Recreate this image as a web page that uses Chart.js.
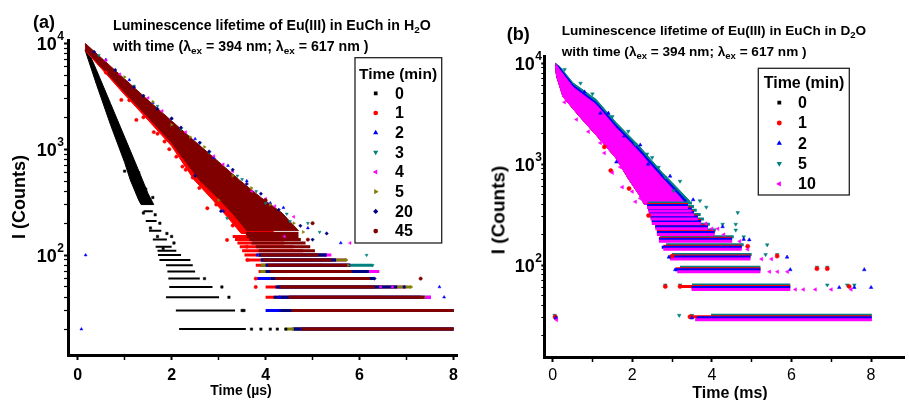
<!DOCTYPE html>
<html><head><meta charset="utf-8">
<script src="https://cdn.jsdelivr.net/npm/chart.js@4.4.1/dist/chart.umd.min.js"></script>
<style>
html,body{margin:0;padding:0;background:#fff;width:909px;height:400px;overflow:hidden;}
body{position:relative;font-family:"Liberation Sans",Arial,Helvetica,sans-serif;font-weight:bold;color:#000;}
canvas{position:absolute;top:0;}
#ca{left:0;}
#cb{left:460px;}
.t{position:absolute;white-space:nowrap;line-height:1;}
.t sub{font-size:70%;vertical-align:-0.3em;line-height:0;}
.r{transform:translate(-50%,-50%) rotate(-90deg);}
.cx{transform:translateX(-50%);}
</style></head><body>
<canvas id="ca" width="462" height="400"></canvas>
<canvas id="cb" width="449" height="400"></canvas>

<div class="t" style="left:33px;top:13px;font-size:18px">(a)</div>
<div class="t" style="left:113px;top:17.6px;font-size:14.2px">Luminescence lifetime of Eu(III) in EuCh in H<sub>2</sub>O</div>
<div class="t" style="left:113px;top:39px;font-size:14.2px">with time (λ<sub>ex</sub> = 394 nm; λ<sub>ex</sub> = 617 nm )</div>
<div class="t cx" style="left:241px;top:383px;font-size:14px">Time (µs)</div>
<div class="t r" style="left:19px;top:197px;font-size:18px">I (Counts)</div>

<div class="t" style="left:506.7px;top:24.5px;font-size:18px">(b)</div>
<div class="t" style="left:561.7px;top:23.7px;font-size:13.6px">Luminescence lifetime of Eu(III) in EuCh in D<sub>2</sub>O</div>
<div class="t" style="left:561.7px;top:45.4px;font-size:13.6px">with time (λ<sub>ex</sub> = 394 nm; λ<sub>ex</sub> = 617 nm )</div>
<div class="t cx" style="left:730px;top:384.7px;font-size:16px">Time (ms)</div>
<div class="t r" style="left:497.5px;top:210px;font-size:19px">I (Counts)</div>

<script>
// ================= DATA =================
// axis ticks
const xTickVals = [0,1,2,3,4,5,6,7,8];
const xTickLabels = ['0','','2','','4','','6','','8'];
const yTickVals = [20,30,40,50,60,70,80,90,100,200,300,400,500,600,700,800,900,1000,2000,3000,4000,5000,6000,7000,8000,9000,10000];
const yMajorVals = [100,1000,10000];
const yMajorBase = ['10','10','10'];
const yMajorExp = ['2','3','4'];

// ---- Panel (a): H2O, time in µs ; series = time (min)
const seriesA = ['0','1','2','3','4','5','20','45'];

// series 0 min
const a0Hi = [[0.16,9800],[0.4,5600],[0.7,2700],[1.0,1300],[1.2,800],[1.38,513],[1.5,380],[1.62,300]];
const a0Lo = [[0.16,8600],[0.4,4100],[0.7,1700],[1.0,750],[1.12,513],[1.3,330],[1.35,300],[1.62,300]];
const a0Rows = [[20,2.16,3.58],[30,2.09,3.35],[40,1.88,3.01],[50,1.95,2.87],[60,1.93,2.6],[70,1.91,2.5],[80,1.88,2.45],[90,1.74,2.4],[100,1.71,2.2],[110,1.7,2.1],[120,1.66,2.0],[140,1.6,1.9],[170,1.52,1.78],[210,1.45,1.68],[260,1.4,1.6]];
const a0Pts = [[3.7,20],[3.9,20],[4.1,20],[4.25,20],[4.43,20],[3.5,30],[3.54,30],[3.22,40],[3.07,50],[2.7,60],[1.3,600],[1.45,420],[1.6,350],[1.75,200],[1.9,160],[2.05,130],[1.4,250],[1.55,180],[1.82,115],[1.2,480],[1.0,620],[1.7,150],[2.0,150],[1.65,240]];

// series 1 min
const a1Hi = [[0.16,9600],[0.5,6800],[1.0,4200],[1.5,2600],[2.0,1600],[2.5,1000],[3.0,600],[3.4,400],[3.8,250],[4.2,160]];
const a1Lo = [[0.16,8550],[0.5,5800],[1.0,3270],[1.5,1880],[2.0,1070],[2.48,513],[2.88,330],[3.18,230],[3.48,160],[4.2,160]];
const a1Rows = [[20,4.6,7.5],[30,4.18,7.0],[40,4.0,6.5],[50,4.0,6.0],[60,3.95,5.8],[70,3.85,5.5],[80,3.79,5.3],[90,3.61,5.0],[100,3.55,4.9],[110,3.5,4.8],[120,3.45,4.6],[130,3.4,4.4],[140,3.35,4.3],[150,3.3,4.2]];
const a1Pts = [[0.93,2920],[1.25,1890],[1.62,1450],[1.95,1000],[2.23,685],[2.59,430],[1.7,1400],[2.3,640],[2.76,277],[2.95,300],[3.18,139],[3.3,190],[3.6,120],[3.79,60],[3.79,50],[3.61,90],[0.6,5300],[1.1,2900],[1.4,2000],[2.1,850],[2.45,540],[1.85,1180]];

// series 2 min
const a2Rows = [[20,4.56,8.0],[30,4.0,8.0],[40,4.3,7.52],[50,4.25,6.4],[60,3.82,6.32],[70,4.0,6.2],[80,4.0,5.8],[90,3.9,5.5],[100,3.8,5.3]];
const a2Pts = [[0.08,20],[0.17,100],[1.1,4500],[2.0,1950],[2.9,830],[3.6,500],[4.38,280],[4.9,180],[5.6,130],[7.7,50],[7.8,40],[3.1,260],[4.3,40],[0.6,7000],[1.6,2750],[2.5,1250],[3.2,700],[4.1,310]];

// series 3 min
const a3Rows = [[20,4.7,8.0],[30,4.6,8.0],[40,4.5,7.3],[50,4.3,6.5],[60,4.1,6.2],[70,3.89,6.1],[80,3.9,6.28],[90,3.9,5.5],[100,3.85,5.3]];
const a3Pts = [[1.2,3950],[2.6,1150],[3.5,520],[4.0,309],[4.52,208],[5.15,165],[3.18,223],[4.9,200],[6.15,100],[6.28,80],[2.2,1550],[3.8,400],[0.45,7700],[1.7,2550],[2.8,930],[3.4,560],[4.45,245]];

// series 4 min
const a4Rows = [[20,4.7,8.0],[30,4.6,7.95],[40,4.5,7.52],[50,4.3,7.0],[60,4.1,6.2],[70,4.0,6.42],[80,4.0,5.8],[90,3.9,5.72],[100,3.85,5.4]];
const a4Pts = [[0.9,5100],[1.8,2300],[3.71,400],[4.2,290],[4.6,230],[5.8,130],[4.4,150],[2.9,860],[6.45,50],[6.7,50],[3.3,620],[0.6,6900],[1.5,3050],[2.3,1450],[3.1,720],[4.0,340]];

// series 5 min
const a5Rows = [[20,4.42,8.0],[30,4.6,8.0],[40,4.5,7.4],[50,4.3,7.1],[60,4.1,6.2],[70,3.89,5.9],[80,3.9,5.76],[90,3.9,5.72],[100,3.85,5.2]];
const a5Pts = [[1.6,2800],[2.4,1300],[3.3,560],[4.1,300],[4.6,200],[4.8,165],[3.0,330],[5.72,90],[5.76,80],[7.1,50],[2.0,1700],[1.0,4800],[2.7,1050],[3.7,430]];

// series 20 min
const a20Rows = [[20,4.6,8.0],[30,4.3,8.0],[40,4.17,7.3],[50,4.21,6.8],[60,4.1,6.32],[70,4.0,6.2],[80,4.0,5.8],[90,3.9,5.5],[100,3.85,5.3]];
const a20Pts = [[0.8,5600],[1.4,3200],[2.2,1600],[2.8,950],[3.3,640],[4.28,268],[4.74,189],[5.3,160],[3.05,260],[2.5,560],[5.0,140],[6.32,60],[6.95,50],[1.7,2400],[3.9,380],[0.35,8300],[1.2,3850],[2.0,1950],[2.6,1150],[3.6,470]];

// series 45 min
const a45Hi = [[0.16,10000],[0.5,7300],[1.0,4600],[1.5,2900],[2.0,1850],[2.5,1180],[3.0,760],[3.44,513],[3.9,350],[4.35,250],[4.7,170]];
const a45Lo = [[0.16,8700],[0.5,6000],[1.0,3450],[1.5,2000],[2.0,1150],[2.59,513],[3.0,340],[3.29,250],[3.6,170],[4.7,170]];
const a45Rows = [[20,4.77,8.0],[30,4.55,8.0],[40,4.49,7.38],[50,4.3,6.32],[60,4.2,6.22],[70,4.1,5.83],[80,4.05,5.76],[90,3.95,5.4],[100,3.9,5.12],[110,3.85,5.05],[120,3.79,4.95],[130,3.7,4.85],[140,3.65,4.75],[150,3.6,4.7],[160,3.58,4.7]];
const a45Pts = [[7.3,60],[5.0,200],[4.9,140],[3.5,420],[4.0,330]];

// ---- Panel (b): D2O, time in ms ; series = time (min)
const seriesB = ['0','1','2','5','10'];

const b0Hi = [[0.07,10000],[0.18,8600],[0.51,5800],[1.09,3900],[1.59,2300],[2.17,1330],[2.75,730],[3.1,520],[3.35,400]];
const b0Lo = [[0.07,9500],[0.1,7400],[0.26,4670],[0.68,2960],[1.09,1950],[1.59,1150],[1.92,700],[2.17,500],[2.3,400],[3.35,400]];
const b0Rows = [[30,3.6,8.0],[60,3.5,5.9],[90,3.15,5.2],[120,2.95,4.95],[150,2.8,4.7],[180,2.7,4.5],[210,2.62,4.05],[240,2.58,3.9],[270,2.5,3.7],[300,2.46,3.65],[330,2.43,3.55],[360,2.4,3.49],[390,2.37,3.4]];
const b0Pts = [[0.08,30]];

const b1Hi = [[0.07,10000],[0.18,8700],[0.51,5900],[1.09,3950],[1.59,2350],[2.17,1360],[2.75,750],[3.1,530],[3.38,405]];
const b1Lo = [[0.07,9500],[0.1,7400],[0.26,4650],[0.68,2950],[1.09,1950],[1.59,1150],[1.92,700],[2.17,500],[2.31,405],[3.38,405]];
const b1Rows = [[30,3.45,8.0],[60,3.2,5.97],[90,3.1,5.22],[120,3.0,4.97],[150,2.78,4.75],[180,2.67,4.5],[210,2.62,4.07],[240,2.58,3.9],[270,2.49,3.73],[300,2.46,3.65],[330,2.43,3.55],[360,2.4,3.49],[390,2.37,3.4]];
const b1Pts = [[0.06,30],[2.83,60],[3.49,30],[6.64,90],[6.9,90],[5.64,120],[4.9,150],[3.2,60],[3.0,120],[1.46,845],[1.92,560],[2.41,303],[3.45,30],[7.45,60],[1.3,1450]];

const b2Hi = [[0.07,10000],[0.18,9000],[0.51,6100],[1.09,4100],[1.59,2450],[2.17,1420],[2.75,780],[3.1,560],[3.4,415]];
const b2Lo = [[0.07,9500],[0.1,7500],[0.26,4780],[0.68,3000],[1.09,1990],[1.59,1180],[1.92,720],[2.17,515],[2.33,415],[3.4,415]];
const b2Rows = [[30,3.62,8.02],[60,3.49,5.97],[90,3.08,5.22],[120,2.92,4.97],[150,2.74,4.75],[180,2.67,4.51],[210,2.62,4.07],[240,2.58,3.9],[270,2.49,3.73],[300,2.46,3.65],[330,2.43,3.55],[360,2.4,3.49],[390,2.37,3.4]];
const b2Pts = [[0.08,30],[3.5,30],[7.83,90],[8.0,60],[7.58,60],[7.2,60],[5.97,90],[5.89,120],[4.27,240],[4.8,180],[4.94,178],[3.53,444],[3.08,90],[2.92,120],[1.2,3200],[1.8,1900],[2.4,1000],[1.6,1050],[0.8,5200],[1.4,3200],[2.2,1550],[2.95,760]];

const b5Hi = [[0.07,10000],[0.18,9300],[0.51,6400],[1.09,4400],[1.59,2600],[2.17,1520],[2.75,830],[3.1,600],[3.45,430]];
const b5Lo = [[0.07,9500],[0.1,7600],[0.26,4900],[0.68,3100],[1.09,2050],[1.59,1220],[1.92,750],[2.17,540],[2.37,430],[3.45,430]];
const b5Rows = [[30,3.98,8.02],[60,3.5,5.97],[90,3.2,5.22],[120,3.0,5.0],[150,2.85,4.8],[180,2.7,4.55],[210,2.65,4.1],[240,2.6,3.95],[270,2.5,3.8],[300,2.47,3.72],[330,2.45,3.62],[360,2.42,3.55],[390,2.4,3.5]];
const b5Pts = [[0.05,30],[3.18,30],[3.5,30],[2.83,60],[3.2,60],[6.9,60],[7.4,60],[7.58,60],[6.64,90],[6.9,90],[5.35,120],[5.64,120],[5.39,150],[4.8,180],[4.6,210],[4.27,240],[4.6,240],[4.65,313],[3.86,354],[3.7,410],[3.04,516],[2.83,700],[2.66,880],[2.37,1190],[2.08,1490],[1.5,2800],[0.7,6000],[0.3,8200],[1.0,4700],[1.9,2000],[2.5,1100],[3.2,640]];

const b10Hi = [[0.07,10000],[0.18,8600],[0.51,5800],[1.09,3900],[1.59,2300],[2.17,1330],[2.75,730],[3.1,520],[3.35,400]];
const b10Lo = [[0.07,9500],[0.1,7400],[0.26,4670],[0.68,2960],[1.09,1950],[1.59,1150],[1.92,700],[2.17,500],[2.3,400],[3.35,400]];
const b10Rows = [[30,3.58,8.02],[60,3.49,5.97],[90,3.13,5.22],[120,2.95,4.97],[150,2.78,4.75],[180,2.67,4.51],[210,2.62,4.07],[240,2.58,3.9],[270,2.49,3.73],[300,2.46,3.65],[330,2.43,3.55],[360,2.4,3.49],[390,2.37,3.4]];
const b10Pts = [[0.1,30],[6.1,60],[6.3,60],[6.6,60],[7.0,60],[7.5,60],[5.45,90],[5.65,90],[5.9,90],[5.25,120],[5.5,120],[4.9,150],[4.7,180],[4.3,210],[4.0,240],[4.15,240],[3.85,270],[1.5,860],[1.75,620],[2.08,444],[0.9,2200],[1.3,1350],[2.0,560],[0.3,4300],[0.6,2900],[1.2,1700],[1.7,980],[2.2,480]];

// ================= STYLES =================
const FONT = '"Liberation Sans", Arial, Helvetica, sans-serif';
const styleA = {
  '0':  {color:'#000000', shape:'rect',     rot:0},
  '1':  {color:'#ff0000', shape:'circle',   rot:0},
  '2':  {color:'#0000ff', shape:'triangle', rot:0},
  '3':  {color:'#008080', shape:'triangle', rot:180},
  '4':  {color:'#ff00ff', shape:'triangle', rot:270},
  '5':  {color:'#808000', shape:'triangle', rot:90},
  '20': {color:'#000080', shape:'rectRot',  rot:0},
  '45': {color:'#800000', shape:'circle',   rot:0}
};
const styleB = {
  '0':  {color:'#000000', shape:'rect',     rot:0,   shift:0},
  '1':  {color:'#ff0000', shape:'circle',   rot:0,   shift:-1},
  '2':  {color:'#0000ff', shape:'triangle', rot:0,   shift:0},
  '5':  {color:'#008080', shape:'triangle', rot:180, shift:-2.5},
  '10': {color:'#ff00ff', shape:'triangle', rot:270, shift:2}
};
const dataA = {
  '0': {hi:a0Hi, lo:a0Lo, rows:a0Rows, pts:a0Pts},
  '1': {hi:a1Hi, lo:a1Lo, rows:a1Rows, pts:a1Pts},
  '2': {rows:a2Rows, pts:a2Pts},
  '3': {rows:a3Rows, pts:a3Pts},
  '4': {rows:a4Rows, pts:a4Pts},
  '5': {rows:a5Rows, pts:a5Pts},
  '20': {rows:a20Rows, pts:a20Pts},
  '45': {hi:a45Hi, lo:a45Lo, rows:a45Rows, pts:a45Pts}
};
const dataB = {
  '0': {hi:b0Hi, lo:b0Lo, rows:b0Rows, pts:b0Pts},
  '1': {hi:b1Hi, lo:b1Lo, rows:b1Rows, pts:b1Pts},
  '2': {hi:b2Hi, lo:b2Lo, rows:b2Rows, pts:b2Pts},
  '5': {hi:b5Hi, lo:b5Lo, rows:b5Rows, pts:b5Pts},
  '10': {hi:b10Hi, lo:b10Lo, rows:b10Rows, pts:b10Pts}
};
const topA = ['45','20','5','4','3','2','1','0'];
const topB = ['10','2','1','5','0'];

// ================= BUILD =================
Chart.defaults.font.family = FONT;
Chart.defaults.color = '#000';

function xy(arr){ return arr.map(p => ({x:p[0], y:p[1]})); }
function rowsData(rows){
  const out = [];
  rows.forEach(r => { out.push({x:r[1], y:r[0]}, {x:r[2], y:r[0]}, {x:r[2], y:null}); });
  return out;
}
function buildDatasets(series, data, style, topOrder, rowW, ptR, thinBlack){
  const ds = [];
  series.forEach(name => {
    const d = data[name], st = style[name];
    const rank = topOrder.indexOf(name);
    const shift = st.shift || 0;
    if (d.hi) {
      ds.push({data: xy(d.hi), showLine:true, borderColor:st.color, borderWidth:1, pointRadius:0, fill:false, order:40+rank});
      ds.push({data: xy(d.lo), showLine:true, borderColor:st.color, borderWidth:1, pointRadius:0, fill:'-1', backgroundColor:st.color, order:40+rank});
    }
    ds.push({data: rowsData(d.rows), showLine:true, spanGaps:false, borderColor:st.color,
      borderWidth:(thinBlack && name==='0')?2:rowW, borderCapStyle:'butt', pointRadius:0, fill:false, order:20+rank, yShift:shift});
    ds.push({data: xy(d.pts), showLine:false, pointStyle:st.shape, pointRotation:st.rot, pointRadius:ptR,
      pointBackgroundColor:st.color, pointBorderColor:st.color, pointBorderWidth:0.5, order:rank, yShift:shift});
  });
  return ds;
}

const shiftPlugin = {
  id:'yshift',
  beforeDatasetDraw(chart, args){ const s = chart.data.datasets[args.index].yShift; if (s){ chart.ctx.save(); chart.ctx.translate(0, s); } },
  afterDatasetDraw(chart, args){ const s = chart.data.datasets[args.index].yShift; if (s){ chart.ctx.restore(); } }
};

// power-of-ten labels with real superscripts, placed by the y scale
const powLabels = {
  id:'powLabels',
  afterDraw(chart, args, o){
    const ys = chart.scales.y, ctx = chart.ctx;
    ctx.save();
    ctx.fillStyle = '#000';
    ctx.textBaseline = 'alphabetic';
    ctx.textAlign = 'left';
    yMajorVals.forEach((v, i) => {
      const py = ys.getPixelForValue(v);
      ctx.font = 'bold ' + o.expSize + 'px ' + FONT;
      const we = ctx.measureText(yMajorExp[i]).width;
      ctx.font = 'bold ' + o.baseSize + 'px ' + FONT;
      const wb = ctx.measureText(yMajorBase[i]).width;
      const x0 = o.right - we - wb;
      ctx.fillText(yMajorBase[i], x0, py + o.baseSize * 0.36);
      ctx.font = 'bold ' + o.expSize + 'px ' + FONT;
      ctx.fillText(yMajorExp[i], x0 + wb + 0.5, py - o.baseSize * 0.18);
    });
    ctx.restore();
  }
};

function drawMarker(ctx, shape, rot, r, x, y){
  if (Chart.helpers && Chart.helpers.drawPoint) {
    Chart.helpers.drawPoint(ctx, {pointStyle:shape, rotation:rot, radius:r, borderWidth:0.5}, x, y);
  } else { ctx.beginPath(); ctx.arc(x, y, r, 0, Math.PI*2); ctx.fill(); }
}
const boxLegend = {
  id:'boxLegend',
  afterDraw(chart, args, o){
    const ctx = chart.ctx;
    ctx.save();
    ctx.fillStyle = '#fff';
    ctx.fillRect(o.x, o.y, o.w, o.h);
    ctx.strokeStyle = '#222'; ctx.lineWidth = 1.3;
    ctx.strokeRect(o.x, o.y, o.w, o.h);
    ctx.fillStyle = '#000';
    ctx.textBaseline = 'middle';
    ctx.textAlign = 'center';
    ctx.font = 'bold ' + o.titleSize + 'px ' + FONT;
    ctx.fillText('Time (min)', o.titleX, o.titleY);
    ctx.textAlign = 'left';
    ctx.font = 'bold ' + o.labelSize + 'px ' + FONT;
    o.series.forEach((name, i) => {
      const st = o.style[name];
      const y = o.rowY + i * o.rowH;
      ctx.fillStyle = st.color; ctx.strokeStyle = st.color;
      drawMarker(ctx, st.shape, st.rot, o.markR, o.markX, y);
      ctx.fillStyle = '#000';
      ctx.fillText(name, o.labelX, y + 1);
    });
    ctx.restore();
  }
};

function makeScales(cfg){
  return {
    x: {
      type:'linear', min:cfg.xmin, max:cfg.xmax,
      afterBuildTicks: s => { s.ticks = xTickVals.map(v => ({value:v})); },
      afterFit: s => { s.height = cfg.xh; s.paddingLeft = 0; s.paddingRight = 0; },
      ticks: {autoSkip:false, maxRotation:0, padding:cfg.xpad, color:'#000',
        font:{size:16, weight:cfg.xweight, family:FONT},
        callback: (v) => xTickLabels[xTickVals.indexOf(v)] },
      grid: {drawOnChartArea:false, drawTicks:true, tickLength:5, tickColor:'#000',
        tickWidth: c => (c.tick && c.tick.value % 2 === 0) ? 2 : 1.5},
      border: {display:true, color:'#000', width:3}
    },
    y: {
      type:'logarithmic', min:cfg.ymin, max:cfg.ymax,
      afterBuildTicks: s => { s.ticks = yTickVals.map(v => ({value:v})); },
      afterFit: s => { s.width = cfg.yw; s.paddingTop = 0; s.paddingBottom = 0; },
      ticks: {autoSkip:false, padding:0, color:'#000', font:{size:10, family:FONT},
        callback: () => '' },
      grid: {drawOnChartArea:false, drawTicks:true, tickLength:cfg.ytl, tickColor:'#000',
        tickWidth: c => (c.tick && yMajorVals.indexOf(c.tick.value) >= 0) ? 2 : 1.2},
      border: {display:true, color:'#000', width:3}
    }
  };
}

new Chart(document.getElementById('ca'), {
  type:'scatter',
  data:{datasets: buildDatasets(seriesA, dataA, styleA, topA, 3, 1.7, true)},
  options:{
    responsive:false, animation:false, events:[], devicePixelRatio:1,
    layout:{padding:{left:0, top:40, right:2, bottom:0}},
    scales: makeScales({xmin:-0.205, xmax:8.084, ymin:11.39, ymax:10740, xh:45, yw:68, xpad:6, ytl:4, xweight:'bold'}),
    plugins:{
      legend:{display:false}, tooltip:{enabled:false},
      powLabels:{right:63.5, baseSize:18, expSize:12},
      boxLegend:{x:355, y:57.7, w:86.7, h:185.3, titleX:398, titleY:74.5, titleSize:15.5, labelSize:16,
        series:seriesA, style:styleA, markX:375.7, labelX:395, rowY:93.3, rowH:19.68, markR:1.7}
    }
  },
  plugins:[shiftPlugin, powLabels, boxLegend]
});

new Chart(document.getElementById('cb'), {
  type:'scatter',
  data:{datasets: buildDatasets(seriesB, dataB, styleB, topB, 3, 2.1, false)},
  options:{
    responsive:false, animation:false, events:[], devicePixelRatio:1,
    layout:{padding:{left:0, top:56, right:0, bottom:0}},
    scales: makeScales({xmin:-0.21, xmax:8.84, ymin:12.28, ymax:11810, xh:43, yw:84.3, xpad:4, ytl:3, xweight:'normal'}),
    plugins:{
      legend:{display:false}, tooltip:{enabled:false},
      powLabels:{right:81.5, baseSize:18, expSize:12},
      boxLegend:{x:298.3, y:68.3, w:91, h:126.7, titleX:344, titleY:83.5, titleSize:16, labelSize:16,
        series:seriesB, style:styleB, markX:319.3, labelX:338, rowY:102.7, rowH:20.3, markR:1.8}
    }
  },
  plugins:[shiftPlugin, powLabels, boxLegend]
});
</script>
</body></html>
